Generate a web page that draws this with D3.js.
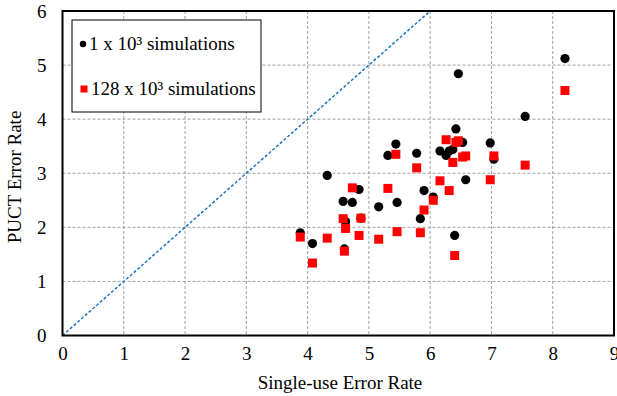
<!DOCTYPE html>
<html><head><meta charset="utf-8">
<script src="https://cdn.jsdelivr.net/npm/d3@7"></script>
<style>body{margin:0;background:#fff}svg text{font-family:"Liberation Serif","Times New Roman",serif !important}</style>
</head><body><svg id="c" width="617" height="396"></svg>
<script>
const singleUse = [3.88,4.08,4.32,4.58,4.60,4.62,4.73,4.84,4.87,5.16,5.31,5.44,5.46,5.78,5.84,5.90,6.05,6.16,6.26,6.31,6.37,6.40,6.42,6.46,6.53,6.58,6.98,7.04,7.55,8.20];
const puct1k   = [1.90,1.70,2.96,2.48,1.60,2.11,2.46,2.70,2.17,2.38,3.33,3.54,2.46,3.37,2.16,2.68,2.56,3.41,3.33,3.41,3.44,1.85,3.82,4.84,3.57,2.88,3.56,3.26,4.05,5.12];
const puct128k = [1.82,1.34,1.80,2.16,1.56,1.98,2.73,1.85,2.17,1.78,2.72,3.35,1.92,3.10,1.90,2.32,2.50,2.86,3.62,2.68,3.20,1.48,3.57,3.60,3.30,3.32,2.88,3.32,3.15,4.53];
const xTicks = [0,1,2,3,4,5,6,7,8,9];
const yTicks = [0,1,2,3,4,5,6];
const seriesNames = ["1 x 10\u00B3 simulations","128 x 10\u00B3 simulations"];

const svg = d3.select("#c");
const L=62.5, R=614, T=11, B=335.5;
const x = d3.scaleLinear().domain([0,9]).range([L,R]);
const y = d3.scaleLinear().domain([0,6]).range([B,T]);

// grid
svg.append("g").selectAll("line").data(xTicks.slice(1,-1)).join("line")
  .attr("x1",d=>x(d)).attr("x2",d=>x(d)).attr("y1",T).attr("y2",B)
  .attr("stroke","#888").attr("stroke-width",0.8).attr("stroke-dasharray","3,2");
svg.append("g").selectAll("line").data(yTicks.slice(1,-1)).join("line")
  .attr("y1",d=>y(d)).attr("y2",d=>y(d)).attr("x1",L).attr("x2",R)
  .attr("stroke","#888").attr("stroke-width",0.8).attr("stroke-dasharray","3,2");

// diagonal y = x
svg.append("line").attr("x1",x(0)).attr("y1",y(0)).attr("x2",x(6)).attr("y2",y(6))
  .attr("stroke","#1a73c4").attr("stroke-width",1.5).attr("stroke-dasharray","3,2");

// axes
const xa = svg.append("g").attr("transform",`translate(0,${B})`)
  .call(d3.axisBottom(x).tickValues(xTicks).tickSize(0).tickPadding(11).tickFormat(d3.format("d")));
xa.attr("font-family",null);
xa.select(".domain").remove();
xa.selectAll("text").attr("font-size",19).attr("fill","#000");
const ya = svg.append("g").attr("transform",`translate(${L},0)`)
  .call(d3.axisLeft(y).tickValues(yTicks).tickSize(0).tickPadding(16).tickFormat(d3.format("d")));
ya.attr("font-family",null);
ya.select(".domain").remove();
ya.selectAll("text").attr("font-size",19).attr("fill","#000");

// frame
svg.append("rect").attr("x",L).attr("y",T).attr("width",R-L).attr("height",B-T)
  .attr("fill","none").attr("stroke","#000").attr("stroke-width",2);

// points
const pts = singleUse.map((v,i)=>({x:v,a:puct1k[i],b:puct128k[i]}));
svg.append("g").selectAll("circle").data(pts).join("circle")
  .attr("cx",d=>x(d.x)).attr("cy",d=>y(d.a)).attr("r",4.6).attr("fill","#000");
svg.append("g").selectAll("rect").data(pts).join("rect")
  .attr("x",d=>x(d.x)-4.5).attr("y",d=>y(d.b)-4.5).attr("width",9).attr("height",9).attr("fill","#ff0000");

// axis titles
svg.append("text").attr("x",340).attr("y",389).attr("text-anchor","middle")
  .attr("font-size",19).text("Single-use Error Rate");
svg.append("text").attr("transform",`translate(21,177) rotate(-90)`).attr("text-anchor","middle")
  .attr("font-size",19).text("PUCT Error Rate");

// legend
const lg = svg.append("g");
lg.append("rect").attr("x",72).attr("y",20).attr("width",189).attr("height",92)
  .attr("fill","#fff").attr("stroke","#000").attr("stroke-width",1);
lg.append("circle").attr("cx",83).attr("cy",44).attr("r",3.2).attr("fill","#000");
lg.append("text").attr("x",89).attr("y",50).attr("font-size",19).text(seriesNames[0]);
lg.append("rect").attr("x",80.5).attr("y",85.5).attr("width",7).attr("height",7).attr("fill","#ff0000");
lg.append("text").attr("x",91).attr("y",95).attr("font-size",19).text(seriesNames[1]);
</script></body></html>
